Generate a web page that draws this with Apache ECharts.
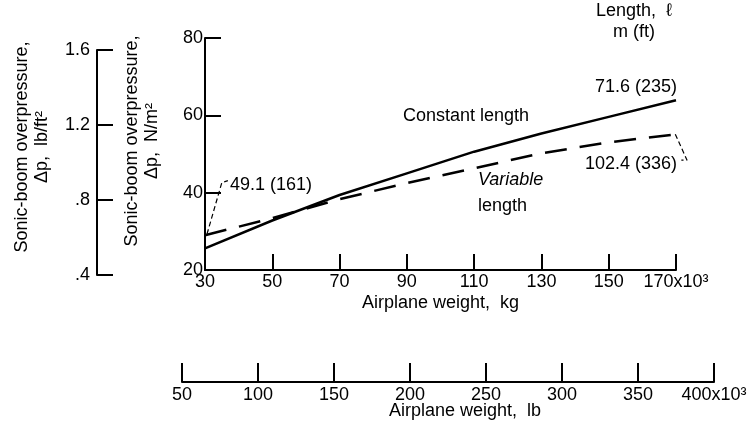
<!DOCTYPE html>
<html lang="en">
  <head>
    <meta charset="UTF-8" />
    <script src="https://cdn.jsdelivr.net/npm/echarts@6/dist/echarts.min.js"></script>
    <title>Sonic-boom overpressure</title>
    <style>
      html, body { margin: 0; padding: 0; background: #fff; }
      #chart { width: 747px; height: 433px; }
    </style>
  </head>
  <body>
    <div id="chart"></div>
  </body>

  <script>
    // data
    const weightKg = [30, 50, 70, 90, 110, 130, 150, 170];
    const constantLength = [25.6, 32.8, 39.4, 45.0, 50.6, 55.3, 59.6, 63.9];
    const variableLength = [29.0, 33.4, 38.3, 42.5, 46.3, 50.2, 53.0, 55.1];

    // leader lines for the length callouts (kg, N/m2)
    const leaderStartX = [30.6, 35.0, 36.8];
    const leaderStartY = [29.3, 42.6, 43.1];
    const leaderEndX = [169.8, 173.3, 171.6];
    const leaderEndY = [55.1, 48.4, 48.4];

    const kgTicks = { min: 30, max: 170, step: 20 };
    const nm2Ticks = { min: 20, max: 80, step: 20 };
    const psfTicks = { min: 0.4, max: 1.6, step: 0.4 };
    const lbTicks = { min: 50, max: 400, step: 50 };

    const font = "Liberation Sans, Arial, sans-serif";
    const zip = (xs, ys) => xs.map((x, i) => [x, ys[i]]);

    const axisLine = { lineStyle: { color: "#000", width: 2 } };
    const axisTick = { inside: true, length: 16, lineStyle: { color: "#000", width: 2 } };
    const label = { color: "#000", fontSize: 18, fontFamily: font };
    const nameStyle = { color: "#000", fontSize: 18, fontFamily: font };

    const myChart = echarts.init(document.getElementById("chart"));

    // grid 3 is a hidden copy of the main grid, stretched to 180 kg so the
    // right-hand leader can run past the last tick
    const option = {
      animation: false,
      grid: [
        { left: 205, right: 71, top: 38, bottom: 163, outerBoundsMode: "none" },
        { left: 97, width: 1, top: 50, bottom: 158, outerBoundsMode: "none" },
        { left: 182, right: 33, top: 381, bottom: 51, outerBoundsMode: "none" },
        { left: 205, right: 37.4, top: 38, bottom: 163, outerBoundsMode: "none" }
      ],
      xAxis: [
        {
          gridIndex: 0, type: "value",
          min: kgTicks.min, max: kgTicks.max, interval: kgTicks.step,
          axisLine, axisTick, splitLine: { show: false },
          axisLabel: Object.assign({}, label, {
            margin: 3,
            formatter: (v) => (v === kgTicks.max ? v + "x10³" : v)
          }),
          name: "Airplane weight,  kg",
          nameLocation: "middle", nameGap: 24, nameMoveOverlap: false,
          nameTextStyle: nameStyle
        },
        { gridIndex: 1, type: "value", show: false, min: 0, max: 1 },
        {
          gridIndex: 2, type: "value",
          min: lbTicks.min, max: lbTicks.max, interval: lbTicks.step,
          axisLine, axisTick: Object.assign({}, axisTick, { length: 19 }),
          splitLine: { show: false },
          axisLabel: Object.assign({}, label, {
            margin: 4,
            formatter: (v) => (v === lbTicks.max ? v + "x10³" : v)
          }),
          name: "Airplane weight,  lb",
          nameLocation: "middle", nameGap: 20, nameMoveOverlap: false,
          nameTextStyle: Object.assign({}, nameStyle, { padding: [0, 0, 0, 34] })
        },
        { gridIndex: 3, type: "value", show: false, min: 30, max: 180 }
      ],
      yAxis: [
        {
          gridIndex: 0, type: "value",
          min: nm2Ticks.min, max: nm2Ticks.max, interval: nm2Ticks.step,
          axisLine, axisTick, splitLine: { show: false },
          axisLabel: Object.assign({}, label, { margin: 2 })
        },
        {
          gridIndex: 1, type: "value",
          min: psfTicks.min, max: psfTicks.max, interval: psfTicks.step,
          axisLine, axisTick, splitLine: { show: false },
          axisLabel: Object.assign({}, label, {
            margin: 7,
            formatter: (v) => {
              const s = (Math.round(v * 10) / 10).toFixed(1);
              return s.startsWith("0") ? s.slice(1) : s;
            }
          })
        },
        { gridIndex: 2, type: "value", show: false, min: 0, max: 1 },
        { gridIndex: 3, type: "value", show: false, min: 20, max: 80 }
      ],
      series: [
        {
          name: "Constant length", type: "line", xAxisIndex: 0, yAxisIndex: 0,
          data: zip(weightKg, constantLength), symbol: "none",
          lineStyle: { color: "#000", width: 2.5 }
        },
        {
          name: "Variable length", type: "line", xAxisIndex: 0, yAxisIndex: 0,
          data: zip(weightKg, variableLength), symbol: "none",
          lineStyle: { color: "#000", width: 2.5, type: [22, 13] }
        },
        {
          type: "line", xAxisIndex: 0, yAxisIndex: 0, clip: false, silent: true,
          data: zip(leaderStartX, leaderStartY), symbol: "none",
          lineStyle: { color: "#000", width: 1.2, type: [5, 3] }
        },
        {
          type: "line", xAxisIndex: 3, yAxisIndex: 3, clip: false, silent: true,
          data: zip(leaderEndX, leaderEndY), symbol: "none",
          lineStyle: { color: "#000", width: 1.2, type: [5, 3] }
        }
      ],
      graphic: [
        {
          type: "text", x: 32, y: 147, rotation: Math.PI / 2,
          style: {
            text: "Sonic-boom overpressure,\nΔp,  lb/ft²",
            font: "18px " + font, fill: "#000", lineHeight: 20,
            textAlign: "center", textVerticalAlign: "middle"
          }
        },
        {
          type: "text", x: 142, y: 141, rotation: Math.PI / 2,
          style: {
            text: "Sonic-boom overpressure,\nΔp,  N/m²",
            font: "18px " + font, fill: "#000", lineHeight: 20,
            textAlign: "center", textVerticalAlign: "middle"
          }
        },
        {
          type: "text", x: 634, y: 22,
          style: {
            text: "Length,  ℓ\nm (ft)", font: "18px " + font, fill: "#000",
            lineHeight: 21, textAlign: "center", textVerticalAlign: "middle"
          }
        },
        {
          type: "text", x: 677, y: 87,
          style: { text: "71.6 (235)", font: "18px " + font, fill: "#000", textAlign: "right", textVerticalAlign: "middle" }
        },
        {
          type: "text", x: 677, y: 164,
          style: { text: "102.4 (336)", font: "18px " + font, fill: "#000", textAlign: "right", textVerticalAlign: "middle" }
        },
        {
          type: "text", x: 230, y: 185,
          style: { text: "49.1 (161)", font: "18px " + font, fill: "#000", textAlign: "left", textVerticalAlign: "middle" }
        },
        {
          type: "text", x: 403, y: 116,
          style: { text: "Constant length", font: "18px " + font, fill: "#000", textAlign: "left", textVerticalAlign: "middle" }
        },
        {
          type: "text", x: 478, y: 180,
          style: { text: "Variable", font: "italic 18px " + font, fill: "#000", textAlign: "left", textVerticalAlign: "middle" }
        },
        {
          type: "text", x: 478, y: 206,
          style: { text: "length", font: "18px " + font, fill: "#000", textAlign: "left", textVerticalAlign: "middle" }
        }
      ]
    };
    myChart.setOption(option);
  </script>
</html>
